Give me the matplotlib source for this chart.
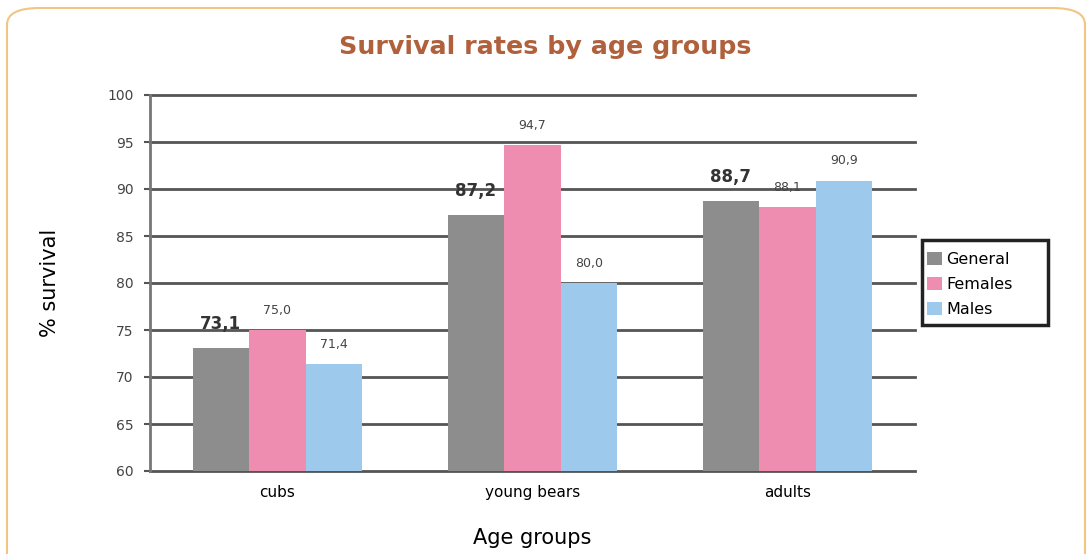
import matplotlib
matplotlib.use("Agg")
import matplotlib.pyplot as plt
from matplotlib.patches import FancyBboxPatch, Rectangle
import numpy as np

categories = ["cubs", "young bears", "adults"]
series_names = ["General", "Females", "Males"]
general = [73.1, 87.2, 88.7]
females = [75.0, 94.7, 88.1]
males = [71.4, 80.0, 90.9]
yticks = [60, 65, 70, 75, 80, 85, 90, 95, 100]

colors = ["#8d8d8d", "#ef8db1", "#9dc9ec"]

fig = plt.figure(figsize=(10.91, 5.54), dpi=100)
fig.patch.set_facecolor("white")

# rounded border
border = FancyBboxPatch((7/1091, -0.05), 1078/1091, 1 - 8/554 + 0.05,
                        boxstyle="round,pad=0,rounding_size=0.03",
                        transform=fig.transFigure, facecolor="none",
                        edgecolor="#f0c682", linewidth=1.5, zorder=0)
fig.patches.append(border)

ax = fig.add_axes([150/1091, 1 - 471/554, (915-150)/1091, (471-95)/554])

x = np.arange(len(categories)) + 0.5
w = 0.222
data = [general, females, males]
for i, (vals, c, name) in enumerate(zip(data, colors, series_names)):
    xs = x + (i - 1) * w
    ax.bar(xs, [v - 60 for v in vals], bottom=60, width=w, color=c, label=name, zorder=3)
    for xi, v in zip(xs, vals):
        lab = f"{v:.1f}".replace(".", ",")
        if i == 0:
            ax.text(xi, v + 1.6, lab, ha="center", va="bottom", fontsize=12,
                    fontweight="bold", color="#333333", zorder=4)
        else:
            ax.text(xi, v + 1.4, lab, ha="center", va="bottom", fontsize=9,
                    color="#444444", zorder=4)

ax.set_xlim(0, 3)
ax.set_ylim(60, 100)
ax.set_yticks(yticks)
ax.set_yticklabels([str(t) for t in yticks], fontsize=10, color="#444444")
ax.set_xticks(x)
ax.set_xticklabels(categories, fontsize=11)
ax.tick_params(axis="x", length=0, pad=10)
ax.tick_params(axis="y", length=4, width=1.5, color="#555555", pad=8)
ax.grid(axis="y", color="#555555", linewidth=2, zorder=1)
for gl in ax.get_ygridlines():
    gl.set_clip_on(False)
ax.set_axisbelow(True)
for s in ["top", "right", "bottom"]:
    ax.spines[s].set_visible(False)
ax.spines["left"].set_color("#777777")
ax.spines["left"].set_linewidth(2)

ax.set_ylabel("% survival", fontsize=15, labelpad=34)
ax.set_xlabel("Age groups", fontsize=15, labelpad=20)

fig.suptitle("Survival rates by age groups", x=0.5, y=1 - 47/554, va="center",
             fontsize=18.3, fontweight="bold", color="#b0603a")

leg = fig.legend(loc="upper left", bbox_to_anchor=(924/1091, 1 - 249/554),
                 frameon=False, fontsize=11.5, handlelength=0.9,
                 handleheight=0.9, handletextpad=0.3, borderpad=0.2,
                 labelspacing=0.6, borderaxespad=0)
frame = Rectangle((922/1091, 1 - 325/554), 126/1091, 85/554,
                  transform=fig.transFigure, facecolor="none",
                  edgecolor="#222222", linewidth=2.5, zorder=5)
fig.patches.append(frame)

fig.savefig("out.png", dpi=100)
